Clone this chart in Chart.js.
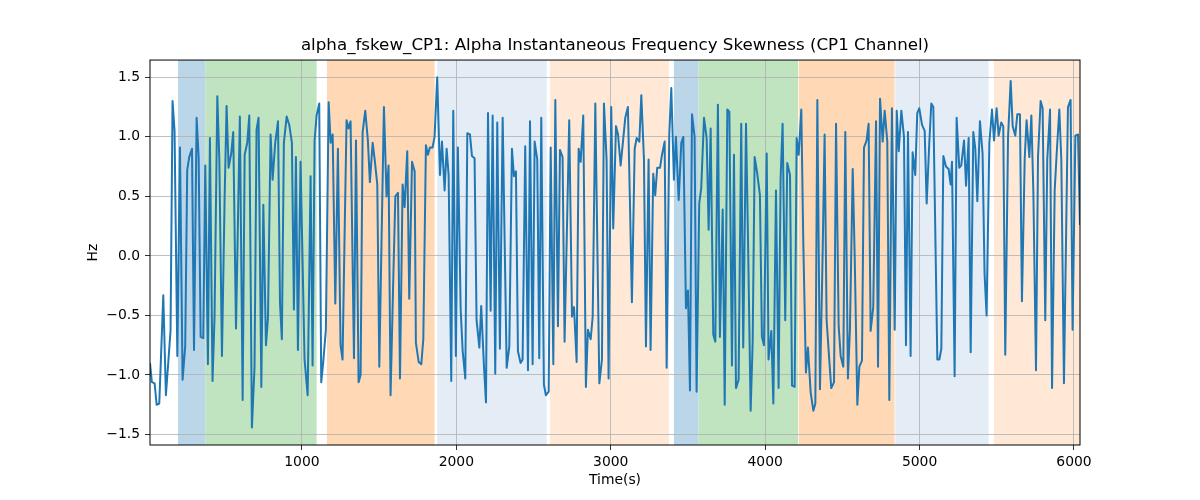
<!DOCTYPE html>
<html>
<head>
<meta charset="utf-8">
<script src="https://cdn.jsdelivr.net/npm/chart.js@4.4.1/dist/chart.umd.min.js"></script>
<style>
  html, body { margin: 0; padding: 0; background: #fff; }
  #wrap { width: 1200px; height: 500px; }
</style>
</head>
<body>
<div id="wrap"><canvas id="skewChart" width="1200" height="500"></canvas></div>
<script>
// sample times (s)
const times = [
  16,28,46,59,76,102,119,149,162,175,193,210,227,244,257,270,288,301,318,331,344,361,374,391,404,421,434,452,465,482,
  499,512,525,542,555,573,586,598,616,629,646,659,676,693,706,719,737,750,767,780,797,810,827,845,858,870,
  883,901,918,935,948,961,974,991,1017,1037,1056,1069,1082,1095,1112,1125,1138,1155,1173,1186,1199,1216,1233,1250,
  1263,1276,1289,1302,1315,1337,1350,1367,1380,1393,1410,1427,1440,1458,1471,1488,1501,1531,1548,1561,1574,1592,1605,1622,
  1635,1652,1665,1682,1695,1713,1730,
  1738,1756,1773,1786,1803,1816,1829,1846,1859,1876,1894,1907,1924,1937,1950,1967,1980,1997,2010,2028,2041,2058,2071,2088,
  2101,2118,2131,2149,2161,2179,2192,2205,2222,2235,2252,2265,2282,2300,2326,2343,2360,2373,2386,2399,2416,2429,2446,2464,
  2477,2494,2507,2524,2537,2550,2567,2580,2598,
  2611,2628,2641,2658,2671,2688,2701,2731,2749,2762,2779,2792,2805,2822,2839,2852,2870,2883,2900,2913,2926,2943,2956,2973,
  2986,3003,3016,3034,3047,3064,3077,3094,3111,3124,3137,3155,3168,3185,3198,3215,3228,3245,3258,3275,3288,3301,3319,3332,
  3349,3362,3379,3392,3409,3422,3440,3457,3470,
  3487,3500,3513,3526,3543,3556,3573,3586,3604,3621,3634,3647,3664,3677,3694,3707,3725,3738,3755,3768,3785,3798,3811,3828,
  3845,3858,3876,3889,3906,3919,3932,3949,3966,3979,3992,4010,4022,4040,4053,4070,4087,4100,4113,4130,4143,4161,4174,4191,
  4204,4217,4234,4247,4264,4277,4295,4312,4325,4338,
  4355,4372,4385,4398,4415,4428,4446,4459,4476,4489,4506,4519,4536,4549,4567,4580,4597,4610,4627,4640,4657,4670,4683,4700,
  4718,4731,4744,4761,4774,4791,4804,4821,4839,4852,4865,4882,4899,4912,4925,4942,4955,4972,4985,4998,5016,5033,5046,5063,
  5076,5089,5115,5128,5141,5154,5171,5188,5201,
  5210,5227,5240,5257,5270,5288,5301,5318,5331,5348,5361,5374,5391,5408,5421,5434,5452,5469,5482,5499,5512,5529,5542,5555,
  5573,5590,5603,5620,5633,5650,5663,5681,5693,5711,5724,5737,5754,5767,5784,5797,5814,5827,5845,5858,5875,5888,5905,5918,
  5935,5961,5978,5991,6009,6026,6039
];

// alpha_fskew_CP1 (Hz)
const skewValues = [
  -0.90,-1.06,-1.07,-1.25,-1.24,-0.33,-1.17,-0.63,1.30,1.05,-0.84,0.91,-1.04,-0.76,0.72,0.83,0.90,-0.79,1.16,0.83,
  -0.68,-0.69,0.76,-0.91,0.99,-1.05,-0.51,1.34,0.81,-0.84,0.47,1.26,0.74,0.86,1.04,-0.61,0.32,1.17,-1.21,0.85,
  0.95,1.18,-1.44,-0.93,1.06,1.16,-1.10,0.43,-0.75,-0.52,1.02,0.64,0.95,1.13,-0.40,-0.70,
  0.95,1.17,1.10,0.95,-0.45,0.83,-0.79,0.79,-0.87,-1.17,0.67,-0.92,0.97,1.18,1.28,-1.06,-0.89,-0.62,1.29,0.95,
  1.02,-0.40,0.90,-0.75,-0.87,0.15,1.14,1.07,1.13,-0.86,0.97,-1.06,-1.00,1.04,1.22,0.97,0.62,0.95,0.81,0.60,
  -0.93,1.25,0.50,0.76,-1.17,-0.17,0.50,0.53,-1.03,0.60,0.41,0.88,-0.36,0.79,0.71,
  -0.73,-0.89,-0.91,-0.70,0.93,0.85,0.91,0.91,1.00,1.50,0.68,0.96,0.55,0.90,0.68,-1.05,1.22,-0.84,0.91,-0.45,
  -0.80,-1.03,1.03,1.02,0.84,0.82,-0.54,-0.77,-0.42,-0.93,-1.23,1.20,-0.46,1.18,-0.99,1.12,-0.78,1.16,-0.94,-0.76,
  0.90,0.67,0.71,-0.80,-0.90,-0.87,0.92,-0.96,1.13,-0.91,0.96,0.81,-0.86,1.16,-1.08,-1.17,-1.14,
  0.91,-0.91,1.31,-0.59,0.89,0.83,-0.72,1.14,-0.51,-0.43,-0.89,0.90,0.79,1.18,-1.10,-0.62,-0.70,-0.51,1.28,0.10,
  -1.07,-0.87,1.28,0.81,-1.03,1.25,0.23,1.09,1.02,0.76,0.93,1.16,1.25,0.47,-0.39,0.90,0.99,0.96,1.35,0.81,
  -0.76,0.81,-0.79,0.69,0.51,0.74,0.74,0.85,0.96,-0.94,1.02,1.41,0.64,1.00,0.47,0.95,1.00,
  -0.44,-0.29,-1.13,1.19,1.00,-1.14,0.44,0.57,1.16,0.99,0.22,1.07,-0.66,-0.72,1.27,-0.68,0.39,-1.25,1.23,1.21,
  -0.92,0.85,-1.11,-1.04,1.11,-0.77,1.11,0.13,-1.30,-0.73,0.83,0.69,0.51,-0.68,-0.75,0.86,-0.87,-0.63,-1.24,0.55,
  -1.11,0.65,1.11,-0.54,0.78,0.68,-1.09,-1.10,0.99,0.85,1.23,0.11,-0.98,-0.77,-1.15,-1.30,-1.24,1.31,
  -1.12,0.00,1.02,-0.54,-0.87,-1.11,-1.06,1.11,-0.59,-0.84,-0.93,1.04,-1.03,-0.62,0.73,-0.01,-1.25,-0.93,-0.88,0.91,
  0.97,1.11,-0.63,-0.43,1.13,-0.93,1.32,0.96,1.22,0.96,-1.21,1.24,-0.62,1.22,0.88,1.22,1.00,-0.75,1.04,-0.84,
  0.87,0.68,1.20,1.24,1.10,1.05,0.44,0.95,1.28,1.25,-0.87,-0.87,-0.78,0.84,0.75,0.73,0.60,
  0.79,-1.01,1.16,0.74,0.76,0.97,0.59,0.99,-0.81,1.04,0.90,0.46,1.13,0.86,-0.15,-0.50,0.95,1.23,0.97,1.24,
  1.01,1.12,1.09,-0.83,1.00,1.47,1.09,1.01,1.19,1.19,-0.38,0.82,1.14,0.83,1.18,0.53,-0.96,0.83,1.30,1.24,
  -0.54,0.81,1.23,-1.11,0.55,0.86,1.23,0.81,-1.07,1.25,1.31,-0.62,1.01,1.02,0.26
];

// shaded phases (s)
const phaseStart = [197, 374, 1162, 1876, 2606, 3409, 3569, 4217, 4843, 5482];
const phaseEnd   = [374, 1095, 1859, 2585, 3377, 3569, 4213, 4838, 5447, 6045];
const phaseColor = ['#bbd5e9', '#c0e3c0', '#ffd8b6', '#e4ecf6', '#ffe9d6',
                    '#bbd5e9', '#c0e3c0', '#ffd8b6', '#e4ecf6', '#ffe9d6'];

const xTicks = [1000, 2000, 3000, 4000, 5000, 6000];
const yTicks = [-1.5, -1.0, -0.5, 0.0, 0.5, 1.0, 1.5];

Chart.defaults.font.family = "'DejaVu Sans', sans-serif";
Chart.defaults.color = '#000';

// axvspan-like bands under the grid, plus a full frame
const phaseBands = {
  id: 'phaseBands',
  beforeDraw(chart) {
    const { ctx, chartArea: a, scales: { x } } = chart;
    ctx.save();
    ctx.beginPath();
    ctx.rect(a.left, a.top, a.right - a.left, a.bottom - a.top);
    ctx.clip();
    phaseStart.forEach((s, i) => {
      const x0 = x.getPixelForValue(s);
      const x1 = x.getPixelForValue(phaseEnd[i]);
      ctx.fillStyle = phaseColor[i];
      ctx.fillRect(x0, a.top, x1 - x0, a.bottom - a.top);
    });
    ctx.restore();
  },
  afterDraw(chart) {
    const { ctx, chartArea: a } = chart;
    ctx.save();
    ctx.strokeStyle = '#000';
    ctx.lineWidth = 1;
    ctx.strokeRect(a.left, a.top, a.right - a.left, a.bottom - a.top);
    ctx.restore();
  }
};

const ctx = document.getElementById('skewChart').getContext('2d');
const skewChart = new Chart(ctx, {
  type: 'line',
  data: {
    datasets: [{
      label: 'alpha_fskew_CP1',
      data: times.map((t, i) => ({ x: t, y: skewValues[i] })),
      borderColor: '#1f77b4',
      borderWidth: 2,
      borderJoinStyle: 'round',
      pointRadius: 0,
      tension: 0,
      fill: false
    }]
  },
  options: {
    responsive: false,
    animation: false,
    layout: { padding: { left: 85, right: 120, top: 0, bottom: 11 } },
    plugins: {
      legend: { display: false },
      tooltip: { enabled: false },
      title: {
        display: true,
        fullSize: false,
        text: 'alpha_fskew_CP1: Alpha Instantaneous Frequency Skewness (CP1 Channel)',
        font: { size: 16.7, weight: 'normal' },
        color: '#000',
        padding: { top: 36, bottom: 4 }
      }
    },
    scales: {
      x: {
        type: 'linear',
        position: 'bottom',
        min: times[0],
        max: times[times.length - 1],
        afterBuildTicks: s => { s.ticks = xTicks.map(v => ({ value: v })); },
        afterFit: s => { s.height = 44; },
        grid: { color: '#b0b0b0', lineWidth: 0.8, tickLength: 5, tickColor: '#000' },
        border: { display: false },
        ticks: { font: { size: 13.9 }, color: '#000', padding: 4, maxRotation: 0, autoSkip: false,
                 callback: v => String(v) },
        title: { display: true, text: 'Time(s)', font: { size: 13.9 }, color: '#000', padding: 0 }
      },
      y: {
        min: -1.588,
        max: 1.645,
        afterBuildTicks: s => { s.ticks = yTicks.map(v => ({ value: v })); },
        afterFit: s => { s.width = 65; },
        grid: { color: '#b0b0b0', lineWidth: 0.8, tickLength: 5, tickColor: '#000' },
        border: { display: false },
        ticks: { font: { size: 13.9 }, color: '#000', padding: 5, autoSkip: false,
                 callback: v => v.toFixed(1).replace('-', '\u2212') },
        title: { display: true, text: 'Hz', font: { size: 13.9 }, color: '#000', padding: 0 }
      }
    }
  },
  plugins: [phaseBands]
});
</script>
</body>
</html>
